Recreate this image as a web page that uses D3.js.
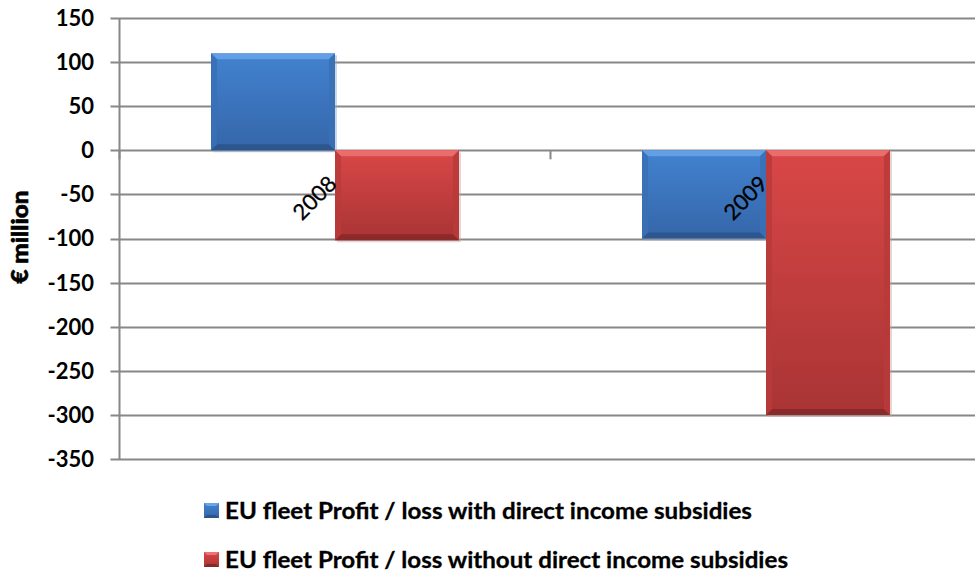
<!DOCTYPE html>
<html>
<head>
<meta charset="utf-8">
<script src="https://cdn.jsdelivr.net/npm/d3@7"></script>
<style>
  html, body { margin: 0; padding: 0; background: #fff; }
  svg { display: block; }
  text { font-family: Lato, "Liberation Sans", sans-serif; }
</style>
</head>
<body>
<svg id="chart" width="975" height="575"></svg>
<script>
// ---- data ----
const categories = ["2008", "2009"];
const seriesNames = [
  "EU fleet Profit / loss with direct income subsidies",
  "EU fleet Profit / loss without direct income subsidies"
];
const withSubsidies = [110, -100];
const withoutSubsidies = [-102, -300];
const yTicks = [150, 100, 50, 0, -50, -100, -150, -200, -250, -300, -350];
const yTitle = "€ million";

// ---- layout ----
const svg = d3.select("#chart");
const plot = { left: 119.5, right: 981.5, top: 18, bottom: 459 };

const y = d3.scaleLinear().domain([-350, 150]).range([plot.bottom, plot.top]);
const x0 = d3.scaleBand().domain(categories).range([plot.left, plot.right]).paddingInner(0).paddingOuter(0);
const x1 = d3.scaleBand().domain([0, 1]).range([0, x0.bandwidth()]).paddingInner(0).paddingOuter(0.738);

const palette = [
  { face0: "#4282d0", face1: "#3566a9", top: "#6aa5e8", bottom: "#2b5489", side: "#3a70b5", shadow: "#8fa8c8" },
  { face0: "#d94747", face1: "#a93434", top: "#ef7373", bottom: "#86282a", side: "#b93a3a", shadow: "#c9a0a0" }
];

const defs = svg.append("defs");
palette.forEach((p, i) => {
  const g = defs.append("linearGradient").attr("id", "grad" + i)
    .attr("x1", 0).attr("y1", 0).attr("x2", 0).attr("y2", 1);
  g.append("stop").attr("offset", "0%").attr("stop-color", p.face0);
  g.append("stop").attr("offset", "100%").attr("stop-color", p.face1);
});

// gridlines
svg.append("g").selectAll("line").data(yTicks).join("line")
  .attr("x1", plot.left - 9).attr("x2", 975)
  .attr("y1", d => Math.round(y(d)) + 0.5).attr("y2", d => Math.round(y(d)) + 0.5)
  .attr("stroke", "#878787").attr("stroke-width", 2);

// y axis line
svg.append("line")
  .attr("x1", plot.left).attr("x2", plot.left)
  .attr("y1", y(150)).attr("y2", y(-350) + 1)
  .attr("stroke", "#878787").attr("stroke-width", 2);

// y tick labels
svg.append("g").selectAll("text").data(yTicks).join("text")
  .attr("x", 94).attr("y", d => y(d))
  .attr("dy", "0.36em")
  .attr("text-anchor", "end")
  .attr("font-size", 22).attr("font-weight", "bold").attr("fill", "#000")
  .text(d => d);

// y axis title
svg.append("text")
  .attr("transform", `translate(28, 237) rotate(-90)`)
  .attr("text-anchor", "middle")
  .attr("font-size", 22).attr("font-weight", 900).attr("fill", "#000")
  .attr("stroke", "#000").attr("stroke-width", 0.6)
  .attr("textLength", 93).attr("lengthAdjust", "spacingAndGlyphs")
  .text(yTitle);

// x category boundary ticks on the zero line
const boundaries = [plot.left, ...categories.slice(1).map(c => x0(c)), plot.right];
svg.append("g").selectAll("line").data(boundaries).join("line")
  .attr("x1", d => d).attr("x2", d => d)
  .attr("y1", y(0)).attr("y2", y(0) + 9)
  .attr("stroke", "#878787").attr("stroke-width", 2);

// bars
const seriesValues = [withSubsidies, withoutSubsidies];
const barData = [];
categories.forEach((c, ci) => {
  seriesValues.forEach((vals, si) => {
    barData.push({ cat: c, s: si, v: vals[ci] });
  });
});

const bevel = 6;
const barG = svg.append("g");
barData.forEach(d => {
  const p = palette[d.s];
  const xa = x0(d.cat) + x1(d.s);
  const xb = xa + x1.bandwidth();
  const ya = Math.min(y(d.v), y(0));
  const yb = Math.max(y(d.v), y(0));
  const g = barG.append("g");
  g.append("rect").attr("x", xa + 2).attr("y", ya + 2).attr("width", xb - xa).attr("height", yb - ya)
    .attr("fill", p.shadow).attr("opacity", 0.45);
  g.append("rect").attr("x", xa).attr("y", ya).attr("width", xb - xa).attr("height", yb - ya)
    .attr("fill", `url(#grad${d.s})`);
  const b = bevel;
  const polys = [
    { pts: [[xa, ya], [xb, ya], [xb - b, ya + b], [xa + b, ya + b]], fill: p.top },
    { pts: [[xa, yb], [xb, yb], [xb - b, yb - b], [xa + b, yb - b]], fill: p.bottom },
    { pts: [[xa, ya], [xa + b, ya + b], [xa + b, yb - b], [xa, yb]], fill: p.side },
    { pts: [[xb, ya], [xb - b, ya + b], [xb - b, yb - b], [xb, yb]], fill: p.side }
  ];
  polys.forEach(q => {
    g.append("polygon").attr("points", q.pts.map(pt => pt.join(",")).join(" "))
      .attr("fill", q.fill).attr("opacity", 0.85);
  });
});

// category labels rotated
svg.append("g").selectAll("text").data(categories).join("text")
  .attr("transform", d => `translate(${x0(d) + x0.bandwidth() / 2 + 3}, ${y(0) + 35}) rotate(-45)`)
  .attr("text-anchor", "end")
  .attr("font-size", 22).attr("fill", "#000")
  .attr("stroke", "#000").attr("stroke-width", 0.3)
  .text(d => d);

// legend
const legendRows = [
  { y: 519, s: 0 },
  { y: 568, s: 1 }
];
legendRows.forEach(r => {
  const p = palette[r.s];
  const sq = 15, sx = 204, sy = r.y - 16;
  svg.append("rect").attr("x", sx).attr("y", sy).attr("width", sq).attr("height", sq)
    .attr("fill", `url(#grad${r.s})`);
  svg.append("polygon")
    .attr("points", [[sx, sy], [sx + sq, sy], [sx + sq - 3, sy + 3], [sx + 3, sy + 3]].map(pt => pt.join(",")).join(" "))
    .attr("fill", p.top);
  svg.append("polygon")
    .attr("points", [[sx, sy + sq], [sx + sq, sy + sq], [sx + sq - 3, sy + sq - 3], [sx + 3, sy + sq - 3]].map(pt => pt.join(",")).join(" "))
    .attr("fill", p.bottom);
  const t = svg.append("text")
    .attr("x", 225).attr("y", r.y)
    .attr("font-size", 22).attr("font-weight", "bold").attr("fill", "#000")
    .attr("stroke", "#000").attr("stroke-width", 0.3)
    .text(seriesNames[r.s]);
  const target = r.s === 0 ? 527 : 563;
  const len = t.node().getComputedTextLength();
  if (Math.abs(len - target) > 4) {
    t.attr("textLength", target).attr("lengthAdjust", "spacingAndGlyphs");
  }
});
</script>
</body>
</html>
